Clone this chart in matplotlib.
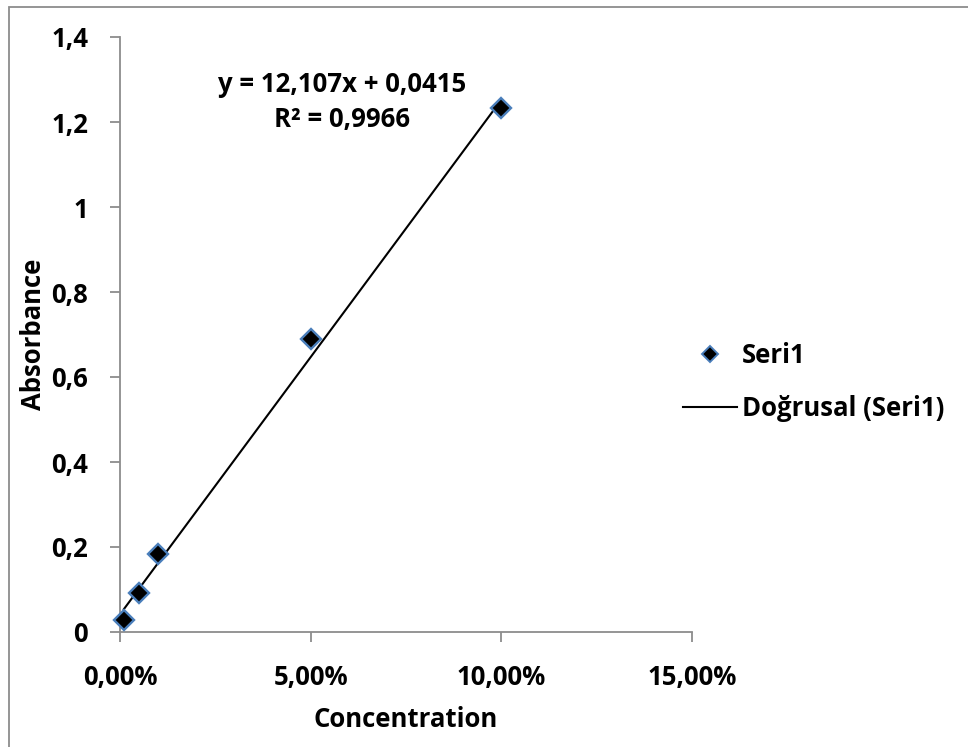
import numpy as np
import matplotlib
matplotlib.use("Agg")
import matplotlib.pyplot as plt
from matplotlib.lines import Line2D
from matplotlib.patches import Rectangle
from matplotlib.ticker import FuncFormatter

plt.rcParams['font.family'] = ['Open Sans', 'DejaVu Sans']
plt.rcParams['font.weight'] = 'bold'

concentration = [0.001, 0.005, 0.01, 0.05, 0.10]
absorbance = [0.028, 0.092, 0.183, 0.690, 1.232]
slope, intercept = 12.107, 0.0415
equation_text = "y = 12,107x + 0,0415\nR² = 0,9966"
x_ticks = [0.0, 0.05, 0.10, 0.15]
y_ticks = [0, 0.2, 0.4, 0.6, 0.8, 1.0, 1.2, 1.4]
series_name = "Seri1"
trend_name = "Doğrusal (Seri1)"

W, H = 968, 747
FS = 18.5
WT = 'bold'
fig = plt.figure(figsize=(W / 100, H / 100), dpi=100)
fig.patch.set_facecolor('white')

# outer chart frame
fig.patches.append(Rectangle((9 / W, -0.1), 1.2, (740 / H) + 0.1, transform=fig.transFigure,
                             fill=False, edgecolor='#8c8c8c', linewidth=1.3))

ax = fig.add_axes([120 / W, (H - 632) / H, 572 / W, 595 / H])
ax.set_xlim(0, 0.15)
ax.set_ylim(0, 1.4)

xs = np.array([min(concentration), max(concentration)])
ax.plot(xs, slope * xs + intercept, color='black', linewidth=1.5, zorder=2)
ax.plot(concentration, absorbance, linestyle='none', marker='D', markersize=10.5,
        markerfacecolor='black', markeredgecolor='#4a7ebb', markeredgewidth=1.7,
        zorder=3, clip_on=False)

ax.set_xticks(x_ticks)
ax.set_yticks(y_ticks)
ax.xaxis.set_major_formatter(FuncFormatter(lambda v, p: f"{v*100:.2f}%".replace('.', ',')))
ax.yaxis.set_major_formatter(FuncFormatter(lambda v, p: f"{v:g}".replace('.', ',')))

for s in ['top', 'right']:
    ax.spines[s].set_visible(False)
for s in ['left', 'bottom']:
    ax.spines[s].set_color('#8c8c8c')
    ax.spines[s].set_linewidth(1.3)
ax.tick_params(axis='both', colors='#8c8c8c', length=7, width=1.3, direction='out',
               labelcolor='black', labelsize=FS)
ax.tick_params(axis='x', pad=16)
ax.tick_params(axis='y', pad=16)
for lab in ax.get_xticklabels() + ax.get_yticklabels():
    lab.set_fontweight(WT)

ax.set_xlabel("Concentration", fontsize=FS, fontweight=WT)
ax.set_ylabel("Absorbance", fontsize=FS, fontweight=WT)
ax.yaxis.set_label_coords(-(120 - 47) / 572, 0.5)
ax.xaxis.set_label_coords(0.5, -(706 - 632) / 595)

ax.text((342 - 120) / 572, (632 - 102) / 595, equation_text, transform=ax.transAxes,
        ha='center', va='center', fontsize=FS, fontweight=WT, linespacing=1.38)

handles = [
    Line2D([], [], linestyle='none', marker='D', markersize=8, markerfacecolor='black',
           markeredgecolor='#4a7ebb', markeredgewidth=1.4, label=series_name),
    Line2D([], [], color='black', linewidth=1.5, label=trend_name),
]
leg = fig.legend(handles=handles, loc='center left', bbox_to_anchor=(660 / W, (H - 382) / H),
                 frameon=False, handlelength=2.1, handletextpad=0.2,
                 labelspacing=1.05, prop={'weight': WT, 'size': FS})

fig.savefig("out.png", dpi=100, facecolor='white')
